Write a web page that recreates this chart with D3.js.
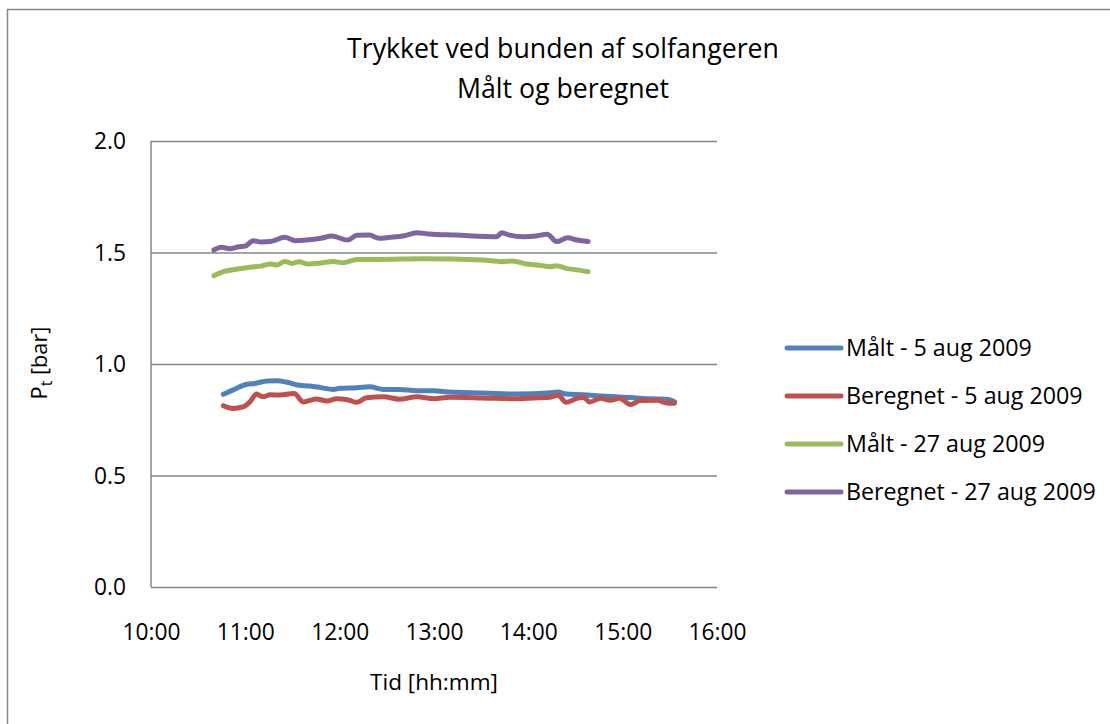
<!DOCTYPE html>
<html><head><meta charset="utf-8">
<script src="https://cdn.jsdelivr.net/npm/d3@7"></script>
<style>
html,body{margin:0;padding:0;background:#fff;}
text{font-family:"Open Sans","Noto Sans",sans-serif;fill:#000;}
</style></head>
<body>
<svg id="chart" width="1110" height="724"></svg>
<script>
// ---- data ----
const seriesNames = ["Målt - 5 aug 2009","Beregnet - 5 aug 2009","Målt - 27 aug 2009","Beregnet - 27 aug 2009"];
const seriesColors = ["#4F81BD","#C0504D","#9BBB59","#8064A2"];

const maalt5Times = ["10:46","10:52","11:01","11:06","11:14","11:20","11:26","11:33","11:41","11:48","11:56","12:00","12:11","12:19","12:28","12:38","12:49","13:00","13:10","13:31","13:53","14:14","14:19","14:24","14:35","14:46","14:56","15:07","15:17","15:28","15:33"];
const maalt5Values = [0.864,0.883,0.909,0.913,0.924,0.925,0.919,0.906,0.901,0.894,0.886,0.891,0.894,0.898,0.886,0.886,0.880,0.880,0.874,0.870,0.865,0.871,0.874,0.865,0.862,0.857,0.853,0.849,0.844,0.842,0.831];

const beregnet5Times = ["10:46","10:52","10:59","11:03","11:07","11:11","11:16","11:22","11:31","11:37","11:45","11:52","11:58","12:05","12:11","12:17","12:28","12:38","12:49","13:00","13:10","13:31","13:53","14:03","14:14","14:19","14:24","14:31","14:35","14:39","14:46","14:52","14:58","15:05","15:11","15:22","15:28","15:33"];
const beregnet5Values = [0.813,0.801,0.809,0.831,0.865,0.853,0.862,0.861,0.868,0.830,0.843,0.834,0.844,0.840,0.828,0.849,0.853,0.842,0.853,0.844,0.851,0.848,0.844,0.848,0.851,0.860,0.828,0.846,0.851,0.830,0.846,0.837,0.846,0.818,0.836,0.837,0.825,0.824];

const maalt27Times = ["10:40","10:46","10:54","11:03","11:10","11:16","11:20","11:25","11:30","11:34","11:40","11:48","11:56","12:02","12:11","12:24","12:53","13:31","13:43","13:50","13:59","14:07","14:14","14:18","14:24","14:31","14:38"];
const maalt27Values = [1.396,1.414,1.425,1.434,1.439,1.448,1.444,1.460,1.451,1.459,1.448,1.453,1.460,1.454,1.469,1.469,1.472,1.466,1.459,1.462,1.448,1.443,1.436,1.441,1.429,1.422,1.414];

const beregnet27Times = ["10:40","10:45","10:50","10:56","11:00","11:05","11:10","11:16","11:25","11:32","11:39","11:48","11:55","12:05","12:11","12:19","12:25","12:32","12:41","12:49","12:57","13:14","13:40","13:43","13:48","13:57","14:05","14:12","14:18","14:25","14:31","14:38"];
const beregnet27Values = [1.511,1.523,1.517,1.526,1.529,1.553,1.547,1.549,1.568,1.553,1.556,1.564,1.574,1.556,1.577,1.578,1.564,1.568,1.575,1.589,1.583,1.578,1.571,1.589,1.578,1.571,1.574,1.582,1.549,1.566,1.556,1.549];

const xTickLabels = ["10:00","11:00","12:00","13:00","14:00","15:00","16:00"];
const yTickValues = [0.0,0.5,1.0,1.5,2.0];

const titleLines = ["Trykket ved bunden af solfangeren","Målt og beregnet"];
const xAxisTitle = "Tid [hh:mm]";

// ---- build ----
const parseT = d3.timeParse("%H:%M");
const series = [
  {times: maalt5Times, values: maalt5Values},
  {times: beregnet5Times, values: beregnet5Values},
  {times: maalt27Times, values: maalt27Values},
  {times: beregnet27Times, values: beregnet27Values}
].map((s,i)=>({name: seriesNames[i], color: seriesColors[i],
  points: s.times.map((t,j)=>({t: parseT(t), v: s.values[j]}))}));

const svg = d3.select("#chart");
const W = 1110, H = 724;
const plot = {left: 151, right: 717, top: 141, bottom: 587};

// outer border (frame continues beyond right/bottom edge)
svg.append("rect").attr("x",7.5).attr("y",9.5).attr("width",W).attr("height",H)
  .attr("fill","none").attr("stroke","#868686").attr("stroke-width",1.5);

const x = d3.scaleTime()
  .domain([parseT(xTickLabels[0]), parseT(xTickLabels[xTickLabels.length-1])])
  .range([plot.left, plot.right]);
const y = d3.scaleLinear().domain([0,2]).range([plot.bottom, plot.top]);

function fitSize(sel, target, base){
  sel.style("font-size", base+"px");
  const w = sel.node().getComputedTextLength();
  const s = base*target/w;
  sel.style("font-size", s+"px");
  return s;
}

// gridlines
const yAxis = d3.axisLeft(y).tickValues(yTickValues).tickSize(-(plot.right-plot.left))
  .tickFormat(d3.format(".1f")).tickPadding(0);
const gy = svg.append("g").attr("transform",`translate(${plot.left},0)`).call(yAxis);
gy.select(".domain").remove();
gy.selectAll(".tick line").attr("stroke","#868686").attr("stroke-width",1.5);
gy.selectAll(".tick text").attr("x",-25).attr("dy","0.35em").attr("fill","#000");
// vertical axis line
svg.append("line").attr("x1",plot.left).attr("x2",plot.left).attr("y1",plot.top).attr("y2",plot.bottom)
  .attr("stroke","#868686").attr("stroke-width",1.5);

const xAxis = d3.axisBottom(x).tickValues(xTickLabels.map(parseT)).tickSize(0)
  .tickFormat(d3.timeFormat("%H:%M")).tickPadding(0);
const gx = svg.append("g").attr("transform",`translate(0,${plot.bottom})`).call(xAxis);
gx.select(".domain").remove();
gx.selectAll(".tick text").attr("y",45).attr("dy","0.35em").attr("fill","#000");

// font sizing to match reference text widths
const tickSample = gx.selectAll(".tick text").filter((d,i)=>i===xTickLabels.length-1);
const tickSize = fitSize(tickSample, 58, 20);
gx.selectAll(".tick text").style("font-size", tickSize+"px");
gy.selectAll(".tick text").style("font-size", tickSize+"px");
svg.selectAll(".tick text").attr("font-family",null);

// lines
const line = d3.line().x(d=>x(d.t)).y(d=>y(d.v)).curve(d3.curveMonotoneX);
svg.append("g").selectAll("path").data(series).join("path")
  .attr("d", d=>line(d.points)).attr("fill","none")
  .attr("stroke", d=>d.color).attr("stroke-width",5)
  .attr("stroke-linecap","round").attr("stroke-linejoin","round");

// title
const t1 = svg.append("text").attr("x",563).attr("y",58).attr("text-anchor","middle").text(titleLines[0]);
const titleSize = fitSize(t1, 432, 24);
svg.append("text").attr("x",563).attr("y",98).attr("text-anchor","middle")
  .style("font-size",titleSize+"px").text(titleLines[1]);

// x axis title
const xt = svg.append("text").attr("x",434).attr("y",690).attr("text-anchor","middle").text(xAxisTitle);
fitSize(xt, 128, 20);

// y axis title with subscript
const yt = svg.append("text").attr("transform","translate(47,363) rotate(-90)").attr("text-anchor","middle");
yt.append("tspan").text("P");
yt.append("tspan").attr("baseline-shift","-30%").style("font-size","0.72em").text("t");
yt.append("tspan").text(" [bar]");
fitSize(yt, 73, 20);

// legend
const legY = [348, 396, 444, 492];
const leg = svg.append("g").selectAll("g").data(series).join("g")
  .attr("transform",(d,i)=>`translate(0,${legY[i]})`);
leg.append("line").attr("x1",787).attr("x2",841).attr("y1",0).attr("y2",0)
  .attr("stroke",d=>d.color).attr("stroke-width",5).attr("stroke-linecap","round");
const legTexts = leg.append("text").attr("x",846).attr("dy","0.35em").text(d=>d.name);
const legSize = fitSize(legTexts.filter((d,i)=>i===3), 250, 20);
legTexts.style("font-size", legSize+"px");
</script>
</body></html>
